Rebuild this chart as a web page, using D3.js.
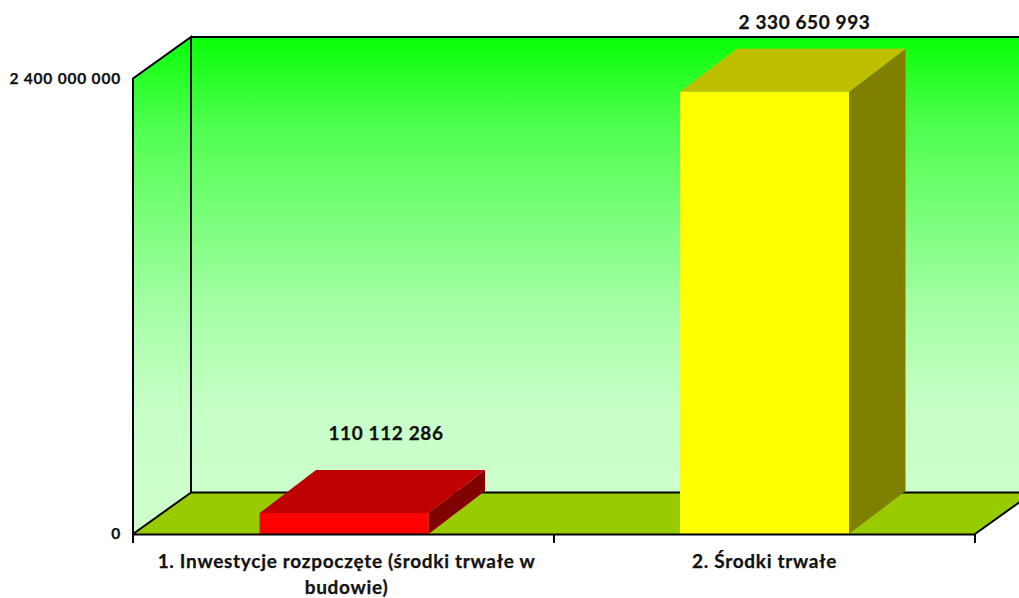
<!DOCTYPE html>
<html><head><meta charset="utf-8">
<style>html,body{margin:0;padding:0;background:#fff;overflow:hidden}svg{display:block}text{font-family:Lato,"Open Sans",sans-serif;font-weight:700;fill:#111;stroke:#111;stroke-width:.25px}</style>
<script src="https://cdn.jsdelivr.net/npm/d3@7"></script></head>
<body><svg id="c" width="1019" height="598"></svg>
<script>
const categories = ["1. Inwestycje rozpoczęte (środki trwałe w budowie)", "2. Środki trwałe"];
const categoryLines = [["1. Inwestycje rozpoczęte (środki trwałe w", "budowie)"], ["2. Środki trwałe"]];
const values = [110112286, 2330650993];
const valueLabels = ["110 112 286", "2 330 650 993"];
const barColors = [{front:"#ff0000",top:"#bf0000",side:"#800000"},{front:"#ffff00",top:"#bfbf00",side:"#808000"}];
const yTicks = [0, 2400000000];
const yTickLabels = ["0", "2 400 000 000"];
const wallStops = [[0,"#08ff08"],[0.2,"#50ff50"],[0.42,"#80ff80"],[0.62,"#aaffaa"],[0.83,"#c8ffc8"],[1,"#ccffcc"]];

const svg = d3.select("#c");
const x0 = 133, x1 = 975, yB = 534, yT = 78.5, dx = 58, dy = -41.5;
const x = d3.scaleBand().domain(categories).range([x0, x1]).padding(0);
const y = d3.scaleLinear().domain([0, yTicks[1]]).range([yB, yT]);
const line = d3.line();
const g = svg.append("defs").append("linearGradient").attr("id","wall").attr("gradientUnits","userSpaceOnUse")
  .attr("x1",0).attr("x2",0).attr("y1",yT+dy).attr("y2",yB+dy);
wallStops.forEach(s=>g.append("stop").attr("offset",s[0]).attr("stop-color",s[1]));
const poly = (pts, fill) => svg.append("path").attr("d", line(pts)+"Z").attr("fill", fill);

poly([[x0,yT],[x0+dx,yT+dy],[x0+dx,yB+dy],[x0,yB]], "url(#wall)");
poly([[x0+dx,yT+dy],[x1+dx,yT+dy],[x1+dx,yB+dy],[x0+dx,yB+dy]], "url(#wall)");
poly([[x0,yB],[x1,yB],[x1+dx,yB+dy],[x0+dx,yB+dy]], "#99cc00");
const ln = (pts) => svg.append("path").attr("d", line(pts)).attr("fill","none").attr("stroke","#000").attr("stroke-width",2);
ln([[x0,yB],[x0,yT],[x0+dx,yT+dy],[x0+dx,yB+dy],[x0,yB]]);
ln([[x0+dx,yT+dy],[x1+dx,yT+dy]]);
ln([[x0+dx,yB+dy],[x1+dx,yB+dy],[x1,yB]]);

const bw = 169, bdx = 56.5, bdy = -43;
categories.forEach((c,i)=>{
  const cx = x(c)+x.bandwidth()/2+(i?0:0.5), l = cx-bw/2, r = cx+bw/2, t = y(values[i]), b = yB, col = barColors[i];
  poly([[r,b],[r+bdx,b+bdy],[r+bdx,t+bdy],[r,t]], col.side);
  poly([[l,t],[r,t],[r+bdx,t+bdy],[l+bdx,t+bdy]], col.top);
  poly([[l,t],[r,t],[r,b],[l,b]], col.front);
  svg.append("text").attr("x",cx+(i?40:42)).attr("y",t+(i?-62.5:-73.5)).attr("text-anchor","middle")
    .attr("font-size",19).attr("letter-spacing",0.6).text(valueLabels[i]);
});

const xAxis = svg.append("g").attr("transform",`translate(0,${yB})`)
  .call(d3.axisBottom(x).tickValues([]).tickSize(0));
xAxis.select(".domain").attr("stroke","#000").attr("stroke-width",2);
[x0, x0+x.step(), x1].forEach(e=>svg.append("line").attr("x1",e).attr("x2",e).attr("y1",yB).attr("y2",yB+9).attr("stroke","#000").attr("stroke-width",2));
categories.forEach((c,i)=>{
  const t = svg.append("text").attr("text-anchor","middle").attr("font-size",19).attr("letter-spacing",0.7);
  categoryLines[i].forEach((s,k)=>t.append("tspan").attr("x",x(c)+x.bandwidth()/2+(i?0:3)).attr("y",568+k*25.5).text(s));
});
const yAxis = svg.append("g").attr("transform",`translate(${x0},0)`)
  .call(d3.axisLeft(y).tickValues(yTicks).tickSize(0).tickPadding(12).tickFormat((d,i)=>yTickLabels[i]));
yAxis.select(".domain").remove();
yAxis.selectAll("text").attr("font-size",15.5).attr("letter-spacing",0.8).style("font-family",'Lato,"Open Sans",sans-serif');
</script></body></html>
